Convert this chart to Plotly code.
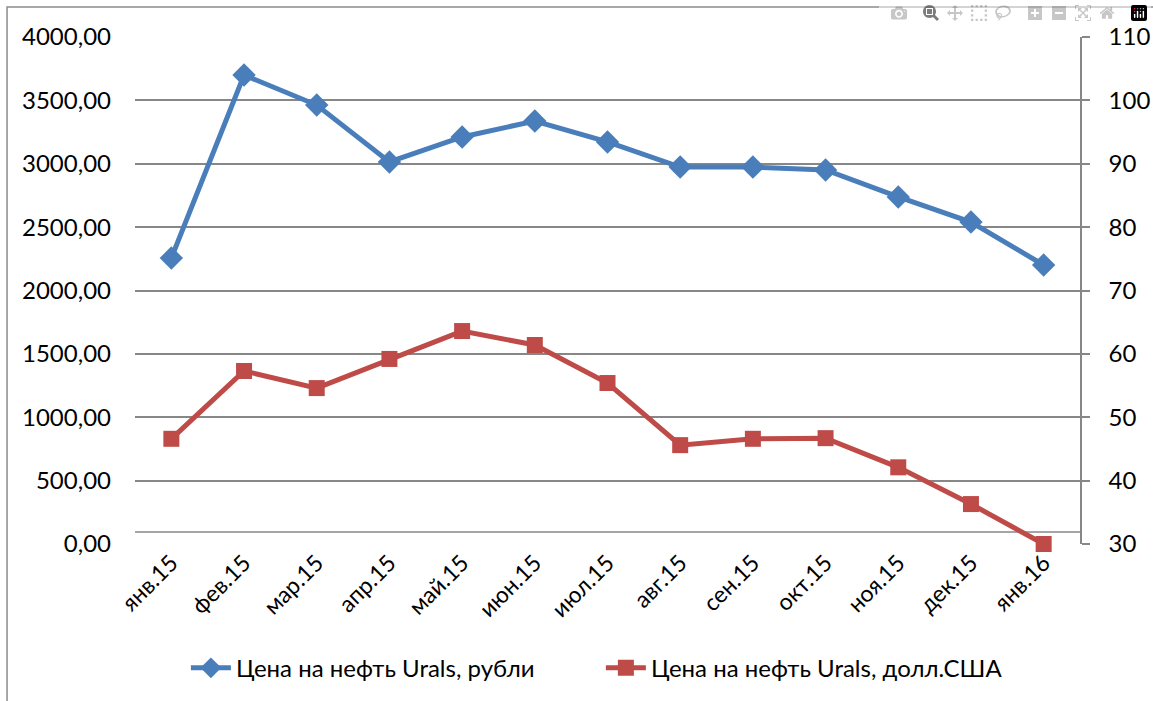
import plotly.graph_objects as go

MONTHS = [
    "янв.15", "фев.15", "мар.15", "апр.15", "май.15", "июн.15", "июл.15",
    "авг.15", "сен.15", "окт.15", "ноя.15", "дек.15", "янв.16",
]
PRICE_RUB = [2256, 3700, 3463, 3014, 3211, 3337, 3172, 2974, 2974, 2951, 2738, 2540, 2201]
PRICE_USD = [46.6, 57.3, 54.6, 59.2, 63.6, 61.4, 55.4, 45.6, 46.6, 46.7, 42.1, 36.3, 30.0]

LEFT_TICKS = [0, 500, 1000, 1500, 2000, 2500, 3000, 3500, 4000]
LEFT_LABELS = ["0,00", "500,00", "1000,00", "1500,00", "2000,00",
               "2500,00", "3000,00", "3500,00", "4000,00"]
RIGHT_TICKS = [30, 40, 50, 60, 70, 80, 90, 100, 110]

BLUE = "#4a7ebb"
RED = "#be4b48"
GRID = "#878787"
FONT = "Lato"

fig = go.Figure()
fig.add_trace(
    go.Scatter(
        x=MONTHS,
        y=PRICE_RUB,
        mode="lines+markers",
        name="Цена на нефть Urals, рубли",
        line={"color": BLUE, "width": 5},
        marker={"symbol": "diamond", "size": 18, "color": BLUE},
        cliponaxis=False,
    )
)
fig.add_trace(
    go.Scatter(
        x=MONTHS,
        y=PRICE_USD,
        yaxis="y2",
        mode="lines+markers",
        name="Цена на нефть Urals, долл.США",
        line={"color": RED, "width": 5},
        marker={"symbol": "square", "size": 16, "color": RED},
        cliponaxis=False,
    )
)

# thin horizontal line just above zero and the outer chart border
fig.add_shape(type="line", xref="paper", x0=0, x1=1, yref="y", y0=95, y1=95,
              line={"color": GRID, "width": 1.5}, layer="below")
fig.add_shape(type="rect", xref="paper", yref="paper",
              x0=-0.1354, x1=1.2, y0=-0.5, y1=1.0592,
              line={"color": "#8c8c8c", "width": 1.5}, layer="below")

fig.update_layout(
    width=1153,
    height=701,
    paper_bgcolor="white",
    plot_bgcolor="white",
    margin={"l": 135, "r": 73, "t": 37, "b": 157, "autoexpand": False},
    font={"family": FONT, "size": 24, "color": "#000000"},
    showlegend=True,
    legend={
        "orientation": "h",
        "x": 0.493,
        "xanchor": "center",
        "y": -0.245,
        "yanchor": "middle",
        "font": {"size": 24},
        "itemwidth": 40,
        "entrywidth": 360,
        "traceorder": "normal",
    },
    xaxis={
        "type": "category",
        "range": [-0.5, 12.5],
        "tickangle": -45,
        "showgrid": False,
        "showline": False,
        "ticks": "",
        "zeroline": False,
        "tickfont": {"size": 23},
        "automargin": False,
    },
    yaxis={
        "range": [0, 4000],
        "tickvals": LEFT_TICKS,
        "ticktext": LEFT_LABELS,
        "showgrid": True,
        "gridcolor": GRID,
        "gridwidth": 1.5,
        "zeroline": False,
        "showline": False,
        "ticks": "",
        "ticklabelstandoff": 23,
        "automargin": False,
    },
    yaxis2={
        "range": [30, 110],
        "tickvals": RIGHT_TICKS,
        "overlaying": "y",
        "side": "right",
        "showgrid": False,
        "zeroline": False,
        "showline": True,
        "linecolor": GRID,
        "linewidth": 1.5,
        "ticks": "outside",
        "ticklen": 8,
        "tickcolor": GRID,
        "tickwidth": 1.5,
        "ticklabelstandoff": 14,
        "automargin": False,
    },
)

# drop the default 8px page margin so the figure fills the window exactly
fig.write_html(
    "out.html",
    post_script="document.body.style.margin='0';document.body.style.overflow='hidden';",
)
